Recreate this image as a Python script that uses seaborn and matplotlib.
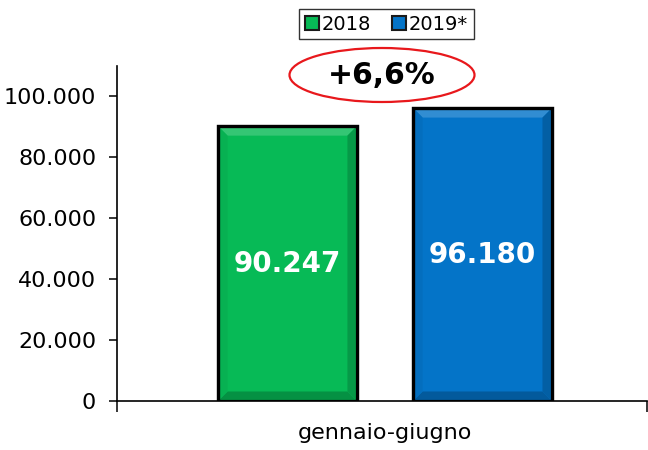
import matplotlib
matplotlib.use("Agg")
import matplotlib.pyplot as plt
import matplotlib.colors as mcolors
from matplotlib.patches import Ellipse, Polygon
from matplotlib.ticker import FuncFormatter, FixedLocator
import seaborn as sns
import pandas as pd

# ---- data ----
periods = ["gennaio-giugno"]
years = ["2018", "2019*"]
values = [90247, 96180]
bar_labels = ["90.247", "96.180"]
change_label = "+6,6%"
colors = ["#07BA56", "#0474C8"]
y_ticks = [0, 20000, 40000, 60000, 80000, 100000]

df = pd.DataFrame({"period": periods * len(years), "year": years, "value": values})

sns.set_style("ticks")
plt.rcParams["font.family"] = ["DejaVu Sans"]
plt.rcParams["text.color"] = "black"
plt.rcParams["axes.labelcolor"] = "black"
plt.rcParams["xtick.color"] = "black"
plt.rcParams["ytick.color"] = "black"

fig = plt.figure(figsize=(6.48, 4.5), dpi=100)
ax = fig.add_axes([117 / 648, 1 - 401 / 450, (647 - 117) / 648, (401 - 66) / 450])

sns.barplot(data=df, x="period", y="value", hue="year", palette=colors, saturation=1,
            width=0.736, gap=0.288, edgecolor="black", linewidth=2.2,
            ax=ax, legend=True)

xlo, xhi = -0.5057, 0.4943
ax.set_ylim(0, 110000)
ax.set_xlim(xlo, xhi)
ax.set_xlabel("")
ax.set_ylabel("")
ax.yaxis.set_major_locator(FixedLocator(y_ticks))
ax.yaxis.set_major_formatter(FuncFormatter(lambda v, p: f"{v:,.0f}".replace(",", ".")))
ax.tick_params(axis="y", labelsize=16, length=6, width=1.1, direction="out", pad=9, colors="black")
ax.tick_params(axis="x", labelsize=16, length=0, pad=16, colors="black")
ax.set_xticks([xlo, xhi], minor=True)
ax.tick_params(axis="x", which="minor", length=8, width=1.1, direction="out")
for s in ["top", "right"]:
    ax.spines[s].set_visible(False)
for s in ["left", "bottom"]:
    ax.spines[s].set_color("black")
    ax.spines[s].set_linewidth(1.2)

# bevel effect derived from bar patches
fig.canvas.draw()
bars = [p for p in ax.patches if p.get_height() > 0]
bev = 8  # px
inv = ax.transData.inverted()
for p in bars:
    x0, y0 = p.get_x(), p.get_y()
    x1, y1 = x0 + p.get_width(), y0 + p.get_height()
    (px0, py0) = ax.transData.transform((x0, y0))
    (px1, py1) = ax.transData.transform((x1, y1))
    base = mcolors.to_rgb(p.get_facecolor())
    light = tuple(c + (1 - c) * 0.18 for c in base)
    dark = tuple(c * 0.78 for c in base)
    side_l = tuple(c * 0.95 for c in base)
    side_r = tuple(c * 0.82 for c in base)
    o = 1.5
    def poly(pts, col):
        dpts = inv.transform(pts)
        ax.add_patch(Polygon(dpts, closed=True, facecolor=col, edgecolor="none", zorder=p.get_zorder() + 0.1))
    poly([(px0 + o, py1 - o), (px1 - o, py1 - o), (px1 - o - bev, py1 - o - bev), (px0 + o + bev, py1 - o - bev)], light)
    poly([(px0 + o, py0 + o), (px1 - o, py0 + o), (px1 - o - bev, py0 + o + bev), (px0 + o + bev, py0 + o + bev)], dark)
    poly([(px0 + o, py0 + o), (px0 + o, py1 - o), (px0 + o + bev, py1 - o - bev), (px0 + o + bev, py0 + o + bev)], side_l)
    poly([(px1 - o, py0 + o), (px1 - o, py1 - o), (px1 - o - bev, py1 - o - bev), (px1 - o - bev, py0 + o + bev)], side_r)
    ax.add_patch(plt.Rectangle((x0, y0), p.get_width(), p.get_height(), fill=False,
                               edgecolor="black", linewidth=2.4, zorder=p.get_zorder() + 0.2))

for c, lab in zip(ax.containers, bar_labels):
    ax.bar_label(c, labels=[lab], label_type="center", color="white",
                 fontsize=20, fontweight="bold", zorder=10)

# legend
handles, labels = ax.get_legend_handles_labels()
if ax.legend_:
    ax.legend_.remove()
leg = fig.legend(handles, labels, loc="center", bbox_to_anchor=(386.5 / 648, 1 - 24 / 450),
                 ncol=2, frameon=True, fancybox=False, edgecolor="black", fontsize=14,
                 handlelength=0.7, handleheight=0.7, handletextpad=0.15, columnspacing=1.1,
                 borderpad=0.3, borderaxespad=0, labelcolor="black")
leg.get_frame().set_linewidth(1.0)
for h in leg.legend_handles:
    h.set_edgecolor("#1a1a1a")
    h.set_linewidth(1.5)

# change annotation
fig.patches.append(Ellipse((382 / 648, 1 - 75 / 450), 185 / 648, 54 / 450,
                           transform=fig.transFigure, facecolor="none", edgecolor="#E8181C", linewidth=1.6))
fig.text(382 / 648, 1 - 76 / 450, change_label, ha="center", va="center",
         fontsize=21.5, fontweight="bold", color="black")

fig.savefig("out.png", dpi=100)
